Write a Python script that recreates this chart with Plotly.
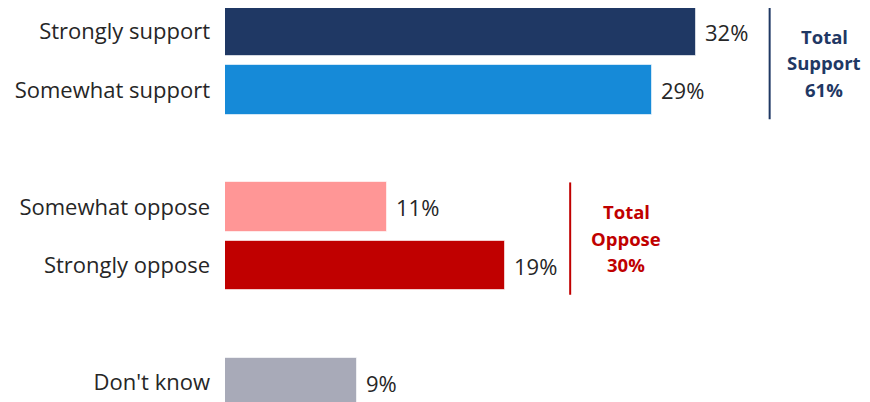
import plotly.graph_objects as go

categories = ["Strongly support", "Somewhat support", "Somewhat oppose", "Strongly oppose", "Don't know"]
values = [32, 29, 11, 19, 9]
slots = [0, 1, 3, 4, 6]
colors = ["#1F3864", "#168AD8", "#FF9696", "#C00000", "#A8AAB8"]
value_labels = ["32%", "29%", "11%", "19%", "9%"]

support_idx = [0, 1]
oppose_idx = [2, 3]
support_color = "#1F3864"
oppose_color = "#C00000"

# page body has an 8px margin; figure is sized to fit the 870x402 window
OFF = 8
W, H = 870 - OFF, 402 - OFF
LEFT = 225 - OFF
PX_PER_PCT = 14.72
ROW = 58.5
ROW0 = 31.5  # screen y of first row centre

fig = go.Figure()
fig.add_trace(go.Bar(
    y=slots, x=values, orientation="h",
    marker=dict(color=colors, line=dict(color="rgba(255,255,255,0.6)", width=1)),
    width=0.84, hoverinfo="skip",
))

font = "Open Sans, Liberation Sans, sans-serif"
ann = []
for s, v, t in zip(slots, values, value_labels):
    ann.append(dict(x=v, y=s, text=t, xanchor="left", yanchor="middle", xshift=7,
                    showarrow=False, font=dict(family=font, size=22, color="#262626")))

shapes = []
def bracket(idx, color, label_word, xoff, txoff):
    vals = [values[i] for i in idx]
    sl = [slots[i] for i in idx]
    total = sum(vals)
    xl = max(vals) + xoff
    shapes.append(dict(type="line", x0=xl, x1=xl, y0=min(sl) - 0.42, y1=max(sl) + 0.5,
                       line=dict(color=color, width=2)))
    ym = (min(sl) + max(sl)) / 2
    lines = ["Total", label_word, f"{total}%"]
    for k, ln in enumerate(lines):
        ann.append(dict(x=xl + txoff, y=ym, text=f"<b>{ln}</b>", xanchor="center", yanchor="middle",
                        yshift=-(k - 1) * 26.5 - 2, showarrow=False,
                        font=dict(family=font, size=18.5, color=color)))

bracket(support_idx, support_color, "Support", 5.0, 3.7)
bracket(oppose_idx, oppose_color, "Oppose", 4.45, 3.8)

fig.update_layout(
    width=W, height=H,
    margin=dict(l=LEFT, r=0, t=0, b=0),
    paper_bgcolor="white", plot_bgcolor="white",
    showlegend=False,
    annotations=ann, shapes=shapes,
    bargap=0,
)
fig.update_xaxes(range=[0, (W - LEFT) / PX_PER_PCT], visible=False, fixedrange=True)
fig.update_yaxes(range=[(402 - ROW0) / ROW, (OFF - ROW0) / ROW], tickvals=slots, ticktext=categories,
                 showgrid=False, zeroline=False, showline=False, ticks="",
                 ticklabelstandoff=14,
                 tickfont=dict(family=font, size=22, color="#262626"))

fig.write_html("out.html")
